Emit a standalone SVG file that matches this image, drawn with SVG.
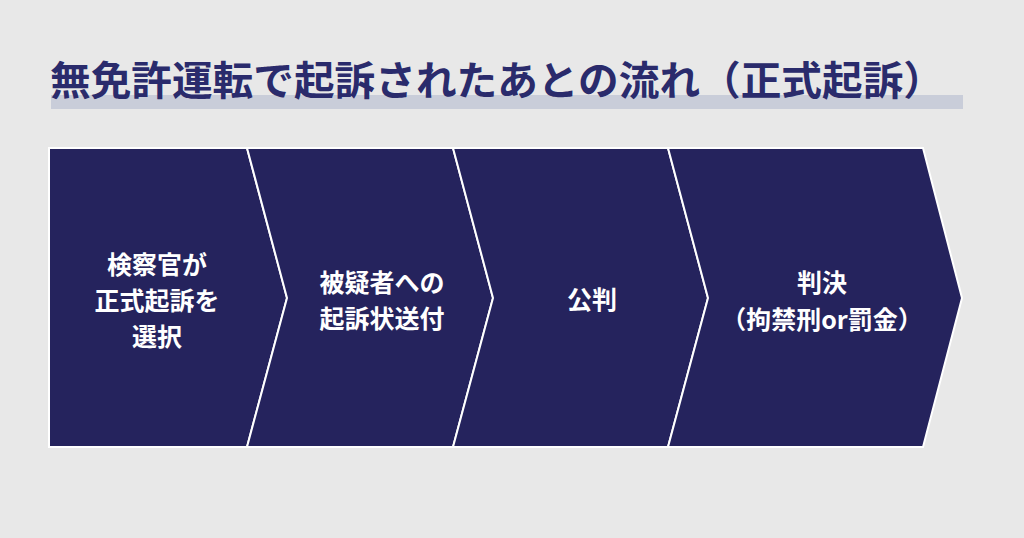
<svg xmlns="http://www.w3.org/2000/svg" width="1024" height="538" viewBox="0 0 1024 538">
<style>
.bg{fill:#e8e8e8}
.chev{fill:#25235d;stroke:#ffffff;stroke-width:2;stroke-linejoin:miter}
.lbl{fill:#ffffff;font-family:"Noto Sans CJK JP","Noto Sans",sans-serif;font-weight:700;font-size:25px;text-anchor:middle}
.title{fill:#2a2b6c;font-family:"Noto Sans CJK JP","Noto Sans",sans-serif;font-weight:700;font-size:40px}
</style>
<rect class="bg" x="0" y="0" width="1024" height="538"/>
<g id="title">
<rect x="51" y="95" width="912" height="14" fill="#c9cdd9"/>
<text class="title" x="50" y="95" textLength="894" lengthAdjust="spacingAndGlyphs">無免許運転で起訴されたあとの流れ（正式起訴）</text>
</g>
<g id="connectors"></g>
<g id="node1">
<polygon class="chev" points="49,148 247,148 287,298 247,447 49,447"/>
<text class="lbl" x="157" y="274">検察官が</text>
<text class="lbl" x="157" y="310">正式起訴を</text>
<text class="lbl" x="157" y="346">選択</text>
</g>
<g id="node2">
<polygon class="chev" points="247,148 453,148 493,298 453,447 247,447 287,298"/>
<text class="lbl" x="382" y="292">被疑者への</text>
<text class="lbl" x="382" y="328">起訴状送付</text>
</g>
<g id="node3">
<polygon class="chev" points="453,148 668,148 708,298 668,447 453,447 493,298"/>
<text class="lbl" x="592" y="309">公判</text>
</g>
<g id="node4">
<polygon class="chev" points="668,148 923,148 962,298 923,447 668,447 708,298"/>
<text class="lbl" x="822" y="292">判決</text>
<text class="lbl" x="822" y="329">（拘禁刑or罰金）</text>
</g>
</svg>
